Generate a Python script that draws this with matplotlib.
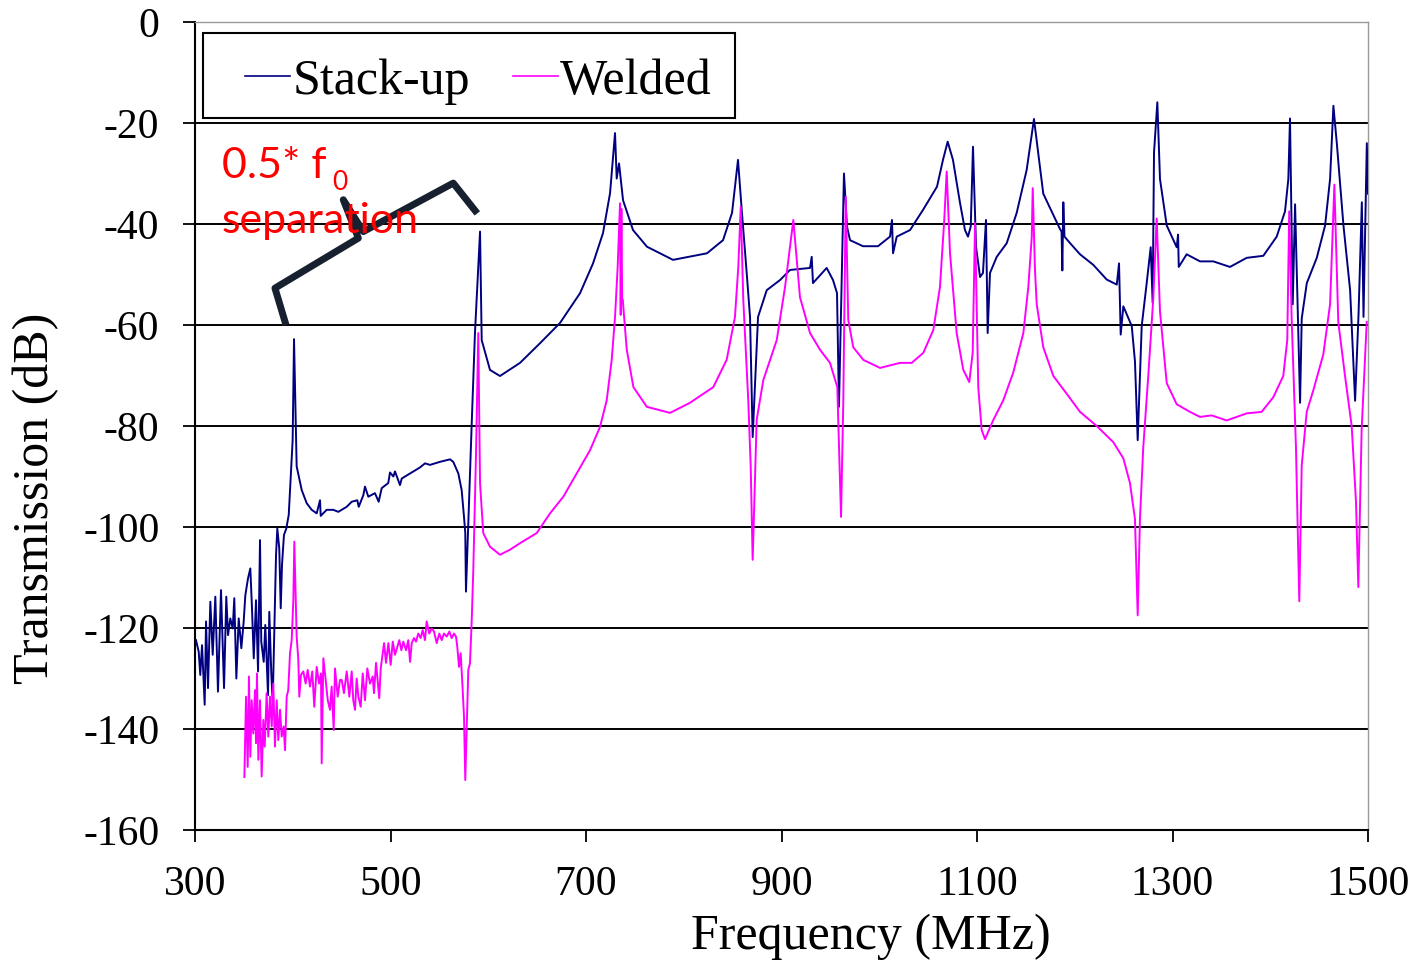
import numpy as np
import matplotlib
matplotlib.use("Agg")
import matplotlib.pyplot as plt
from matplotlib.patches import Rectangle

# Stack-up transmission (MHz, dB)
stack_freq = [301.0, 303.8, 305.4, 307.2, 309.9, 311.3, 313.3, 315.7, 318.1, 320.8,
              323.5, 326.6, 329.7, 332.0, 333.8, 336.1, 338.6, 340.2, 342.3, 344.7,
              347.4, 349.8, 351.5, 354.2, 356.6, 358.3, 360.1, 362.4, 364.5, 366.5,
              367.8, 370.3, 371.9, 374.7, 376.0, 378.1, 379.5, 381.5, 382.9, 384.2,
              386.2, 387.7, 389.0, 391.0, 393.4, 395.9, 399.9, 401.3, 404.0, 409.2,
              414.3, 419.4, 424.5, 427.9, 428.6, 434.7, 441.5, 446.6, 455.2, 460.3,
              466.0, 467.5, 472.2, 473.9, 477.3, 484.1, 487.9, 491.0, 497.7, 499.5,
              502.9, 504.6, 509.7, 511.5, 520.0, 530.2, 535.3, 540.4, 550.6, 560.9,
              564.2, 569.4, 572.8, 575.2, 576.5, 577.2, 583.1, 586.4, 591.6, 593.3,
              601.8, 612.0, 632.5, 653.0, 673.4, 693.9, 707.2, 717.4, 724.6, 729.7,
              731.4, 733.8, 737.9, 748.1, 762.4, 789.0, 823.8, 840.2, 849.4, 855.5,
              859.3, 864.4, 867.8, 870.5, 876.0, 884.9, 898.5, 908.7, 929.2, 930.9,
              932.2, 946.2, 952.7, 956.8, 958.8, 963.9, 967.0, 970.1, 983.4, 998.7,
              1011.0, 1013.0, 1014.1, 1017.9, 1031.5, 1044.8, 1059.1, 1065.2, 1070.0, 1075.4,
              1082.6, 1087.7, 1090.8, 1093.6, 1095.9, 1099.0, 1103.1, 1106.1, 1109.2, 1110.9,
              1113.3, 1120.2, 1130.4, 1140.6, 1150.8, 1158.3, 1167.8, 1184.9, 1186.5, 1187.3,
              1188.3, 1189.5, 1195.7, 1205.4, 1219.0, 1232.7, 1243.0, 1245.3, 1247.0, 1249.7,
              1258.3, 1261.6, 1264.4, 1268.5, 1273.6, 1277.7, 1279.7, 1281.1, 1284.5, 1287.2,
              1294.1, 1304.3, 1305.7, 1306.4, 1314.5, 1328.1, 1341.7, 1358.8, 1375.9, 1392.9,
              1406.6, 1415.1, 1418.5, 1420.2, 1423.0, 1425.4, 1430.5, 1432.2, 1437.4, 1447.6,
              1456.1, 1461.2, 1464.6, 1468.1, 1474.9, 1481.7, 1486.8, 1490.3, 1493.7, 1495.4,
              1498.8, 1500.0]
stack_db = [-122.4, -124.7, -129.3, -123.4, -135.2, -118.7, -131.9, -114.8, -125.3, -113.8,
            -132.6, -112.5, -131.9, -113.8, -121.4, -118.1, -120.1, -114.1, -130.0, -118.1,
            -124.0, -118.7, -113.5, -110.2, -108.2, -116.1, -126.0, -114.5, -128.6, -102.6,
            -122.7, -126.7, -119.4, -133.3, -116.8, -129.3, -134.6, -117.4, -105.5, -100.3,
            -104.2, -116.1, -107.5, -101.6, -100.3, -97.6, -82.8, -62.8, -88.0, -92.7,
            -95.3, -96.6, -97.3, -94.7, -97.8, -96.6, -96.6, -97.0, -96.0, -95.0,
            -94.7, -96.0, -93.7, -92.0, -94.0, -93.3, -95.0, -92.3, -91.3, -89.2,
            -90.0, -89.0, -91.7, -90.4, -89.4, -88.2, -87.4, -87.7, -87.1, -86.6,
            -87.1, -89.4, -92.7, -98.0, -101.2, -112.8, -79.4, -61.6, -41.5, -63.0,
            -68.9, -70.1, -67.5, -63.6, -59.6, -53.7, -47.8, -41.8, -33.9, -22.0,
            -31.0, -28.0, -35.3, -41.2, -44.5, -47.1, -45.8, -43.2, -37.8, -27.3,
            -37.2, -49.7, -58.4, -82.2, -58.4, -53.1, -51.1, -49.1, -48.7, -46.5,
            -51.7, -48.7, -51.1, -53.7, -76.2, -30.0, -40.5, -43.2, -44.4, -44.4,
            -42.5, -39.2, -45.8, -42.5, -41.2, -37.2, -32.6, -27.3, -23.7, -27.3,
            -35.8, -41.2, -42.5, -40.5, -24.7, -44.5, -50.5, -49.7, -39.2, -61.6,
            -49.7, -46.5, -43.8, -37.8, -29.3, -19.2, -34.0, -41.0, -41.5, -49.2,
            -35.7, -42.5, -43.9, -46.0, -48.1, -51.0, -52.0, -47.8, -61.9, -56.3,
            -60.2, -67.2, -82.8, -60.2, -51.7, -44.6, -55.6, -25.8, -15.9, -31.1,
            -40.3, -44.6, -42.1, -48.5, -46.0, -47.4, -47.4, -48.5, -46.7, -46.3,
            -42.5, -37.5, -31.1, -19.1, -55.9, -36.1, -75.4, -58.7, -51.7, -46.7,
            -40.3, -31.1, -16.6, -24.0, -40.3, -53.1, -75.0, -58.0, -35.7, -58.4,
            -24.0, -34.0]

# Welded transmission (MHz, dB)
weld_freq = [350.5, 352.2, 353.9, 355.2, 356.6, 358.0, 359.6, 361.4, 362.4, 363.4,
             364.8, 366.5, 368.2, 369.9, 371.3, 373.3, 375.0, 376.7, 378.5, 380.1,
             381.8, 383.6, 385.2, 387.0, 388.7, 390.7, 392.1, 393.8, 395.4, 397.2,
             398.9, 400.6, 401.6, 404.0, 405.7, 406.7, 408.4, 410.8, 413.2, 415.3,
             417.6, 420.0, 422.0, 424.5, 426.9, 428.9, 429.6, 431.3, 433.7, 435.8,
             438.1, 439.8, 441.9, 443.2, 446.0, 448.3, 450.1, 452.4, 455.2, 457.9,
             460.3, 461.9, 463.7, 465.4, 467.1, 469.5, 471.6, 473.9, 476.3, 479.0,
             481.8, 483.1, 485.2, 486.5, 488.5, 490.0, 492.0, 493.4, 495.4, 497.8,
             500.2, 502.3, 504.6, 507.0, 509.0, 511.1, 513.1, 515.9, 518.2, 520.0,
             521.7, 524.0, 526.1, 528.4, 530.9, 532.9, 535.3, 537.0, 539.7, 542.1,
             544.5, 547.3, 549.9, 552.4, 554.7, 557.5, 560.2, 562.6, 565.0, 567.0,
             568.3, 570.1, 571.8, 573.5, 575.2, 576.5, 578.0, 579.6, 581.3, 583.1,
             584.7, 587.5, 589.8, 591.6, 594.9, 601.8, 612.0, 622.2, 632.5, 649.6,
             663.2, 676.8, 690.5, 704.1, 714.3, 721.2, 726.3, 729.7, 732.4, 734.8,
             735.5, 736.2, 737.0, 737.6, 741.7, 748.5, 762.2, 786.0, 806.4, 830.2,
             843.9, 852.4, 855.8, 858.3, 860.9, 866.0, 868.5, 870.5, 874.6, 881.4,
             895.1, 903.6, 908.7, 912.1, 915.6, 918.9, 929.2, 939.4, 949.6, 957.1,
             960.9, 963.2, 965.7, 968.3, 973.4, 983.7, 1000.8, 1021.2, 1033.2, 1045.1,
             1055.3, 1062.1, 1066.5, 1069.0, 1072.4, 1079.2, 1086.0, 1092.1, 1095.6, 1098.0,
             1101.3, 1104.8, 1108.2, 1116.7, 1126.9, 1137.1, 1147.4, 1152.5, 1156.0, 1157.0,
             1159.3, 1161.1, 1167.8, 1178.1, 1191.7, 1205.4, 1222.5, 1239.4, 1249.7, 1256.5,
             1261.6, 1264.4, 1266.7, 1270.1, 1275.2, 1280.4, 1283.8, 1287.2, 1294.1, 1304.3,
             1317.9, 1328.1, 1340.1, 1355.4, 1375.9, 1391.2, 1403.1, 1413.3, 1417.4, 1419.4,
             1421.9, 1426.3, 1429.7, 1432.2, 1437.3, 1444.1, 1454.3, 1461.2, 1465.6, 1469.6,
             1476.5, 1483.3, 1487.7, 1490.1, 1493.5, 1498.7]
weld_db = [-149.5, -133.6, -147.5, -129.6, -145.5, -134.3, -140.9, -132.3, -142.8, -129.0,
           -146.1, -134.3, -149.4, -138.2, -143.5, -132.9, -141.5, -133.6, -139.5, -131.0,
           -143.5, -134.3, -142.2, -136.2, -141.5, -139.5, -144.2, -133.6, -132.3, -125.0,
           -122.4, -114.5, -102.9, -121.7, -126.3, -133.6, -129.3, -128.6, -131.0, -128.3,
           -131.6, -128.6, -135.6, -127.7, -131.0, -129.0, -146.8, -126.0, -130.3, -134.3,
           -136.2, -131.6, -140.2, -128.0, -133.6, -130.3, -130.3, -132.9, -128.6, -133.6,
           -128.6, -134.3, -136.2, -130.0, -133.6, -135.6, -129.0, -134.3, -128.0, -131.0,
           -129.6, -132.9, -126.9, -129.6, -133.9, -128.0, -125.0, -123.0, -126.9, -123.0,
           -127.3, -122.7, -125.3, -123.7, -122.4, -124.4, -122.7, -124.4, -122.4, -126.7,
           -123.0, -122.0, -122.7, -121.1, -122.0, -120.4, -122.4, -118.7, -121.1, -120.1,
           -120.7, -123.0, -121.1, -122.4, -121.1, -121.7, -120.7, -122.0, -121.1, -121.7,
           -123.7, -127.7, -125.0, -131.0, -137.6, -150.1, -139.5, -128.3, -127.0, -118.4,
           -108.5, -85.4, -61.6, -91.3, -101.2, -103.9, -105.5, -104.5, -103.2, -101.2,
           -97.3, -94.0, -89.4, -84.8, -80.2, -74.9, -66.9, -58.4, -48.5, -35.9,
           -58.0, -37.0, -55.0, -55.0, -64.9, -72.3, -76.2, -77.4, -75.4, -72.3,
           -66.9, -58.4, -48.5, -36.6, -55.0, -74.9, -88.0, -106.5, -78.8, -70.9,
           -63.0, -52.5, -44.5, -39.2, -47.1, -54.5, -61.6, -64.9, -67.5, -72.3,
           -98.0, -75.4, -34.6, -59.0, -64.4, -66.9, -68.5, -67.5, -67.5, -65.5,
           -61.0, -52.5, -39.2, -29.6, -45.8, -61.6, -68.9, -71.3, -65.5, -39.8,
           -72.3, -80.8, -82.6, -78.8, -74.9, -69.4, -61.6, -52.5, -42.6, -32.9,
           -49.1, -55.9, -64.4, -70.1, -73.6, -77.2, -80.0, -83.2, -86.4, -91.3,
           -98.4, -117.5, -98.4, -84.2, -70.1, -54.5, -38.9, -57.3, -71.5, -75.7,
           -77.2, -78.2, -77.9, -78.9, -77.5, -77.2, -74.3, -70.1, -63.0, -37.5,
           -58.7, -84.2, -114.7, -87.8, -77.2, -72.9, -65.8, -55.9, -32.2, -59.4,
           -70.1, -80.0, -94.9, -111.9, -80.7, -59.4]

# brace marking the 0.5*f0 spacing (MHz, dB)
brace_freq = [393.1, 381.8, 467.1, 451.7, 472.2, 564.2, 588.8]
brace_db = [-60.0, -52.7, -42.8, -35.2, -41.5, -31.9, -37.9]

x_ticks = [300, 500, 700, 900, 1100, 1300, 1500]
y_ticks = [0, -20, -40, -60, -80, -100, -120, -140, -160]

serif = "Liberation Serif"

fig = plt.figure(figsize=(14.24, 9.63), dpi=100)
ax = fig.add_axes([195 / 1424, 133 / 963, 1173 / 1424, 808 / 963])

ax.plot(stack_freq, stack_db, color="#000080", lw=1.4, label="Stack-up", zorder=3)
ax.plot(weld_freq, weld_db, color="#ff00ff", lw=1.4, label="Welded", zorder=3)

ax.set_xlim(300, 1500)
ax.set_ylim(-160, 0)
ax.set_xticks(x_ticks)
ax.set_yticks(y_ticks)
ax.set_xticklabels([str(v) for v in x_ticks], fontfamily=serif, fontsize=30)
ax.set_yticklabels([str(v) for v in y_ticks], fontfamily=serif, fontsize=30)
ax.tick_params(direction="out", length=8.6, width=1.3, pad=17, colors="black")

for g in y_ticks[1:-1]:
    ax.axhline(g, color="black", lw=1.4, zorder=1)

for side in ["left", "bottom"]:
    ax.spines[side].set_color("black")
    ax.spines[side].set_linewidth(1.5)
for side in ["top", "right"]:
    ax.spines[side].set_color("#9a9a9a")
    ax.spines[side].set_linewidth(1.0)

ax.set_xlabel("Frequency (MHz)", fontfamily=serif, fontsize=36, va="center")
ax.xaxis.set_label_coords(0.576, -0.132)
ax.set_ylabel("Transmission (dB)", fontfamily=serif, fontsize=36, va="center")
ax.yaxis.set_label_coords(-0.136, 0.41)

# legend box drawn separately so its padding can match the original
ax.add_patch(Rectangle((0.0068, 0.8812), 0.4536, 0.1052, transform=ax.transAxes,
                       facecolor="white", edgecolor="black", lw=1.5, zorder=6))
leg = ax.legend(loc="upper left", bbox_to_anchor=(0.0277, 0.9765), ncol=2,
                prop={"family": serif, "size": 36}, frameon=False,
                borderpad=0.35, borderaxespad=0,
                handlelength=0.9, handletextpad=0.05, columnspacing=0.85)
leg.set_zorder(7)
for h in leg.get_lines():
    h.set_linewidth(1.2)

ax.plot(brace_freq, brace_db, color="#17202f", lw=5, solid_joinstyle="round",
        solid_capstyle="butt", zorder=4)

ax.text(327.6, -30.9, "0.5* f", color="red", fontfamily="Lato", fontsize=31,
        va="baseline", ha="left", zorder=5)
ax.text(440.0, -33.2, "0", color="red", fontfamily="Lato", fontsize=19,
        va="baseline", ha="left", zorder=5)
ax.text(327.6, -41.8, "separation", color="red", fontfamily="Lato", fontsize=31,
        va="baseline", ha="left", zorder=5)

fig.savefig("out.png", dpi=100)
